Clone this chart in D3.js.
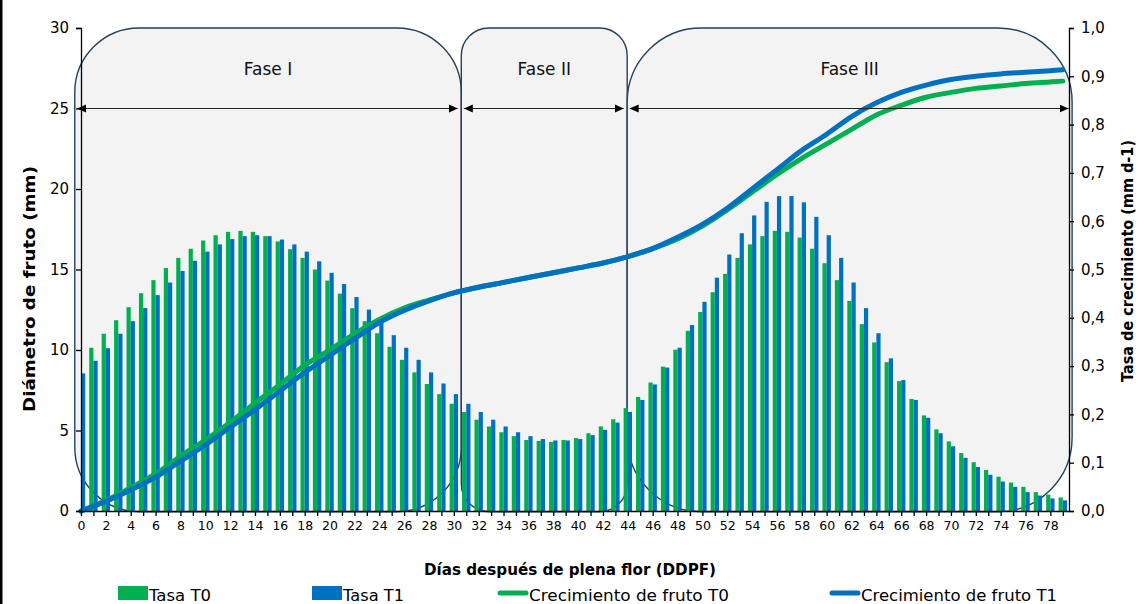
<!DOCTYPE html>
<html>
<head>
<meta charset="utf-8">
<script src="https://cdn.jsdelivr.net/npm/d3@7"></script>
<style>
  html, body { margin: 0; padding: 0; background: #ffffff; }
  svg { display: block; font-family: "DejaVu Sans", Verdana, sans-serif; }
</style>
</head>
<body>
<svg id="chart" width="1142" height="604"></svg>
<script>
// Daily growth rate (mm d-1), days 0..79
const days = d3.range(0, 80);
const tasaT0 = [
  0.310,0.338,0.367,0.395,0.422,0.451,0.478,0.503,0.524,0.543,
  0.560,0.571,0.578,0.580,0.578,0.569,0.558,0.542,0.524,0.500,
  0.477,0.450,0.420,0.393,0.368,0.340,0.313,0.287,0.263,0.242,
  0.222,0.205,0.189,0.175,0.163,0.155,0.147,0.145,0.143,0.147,
  0.151,0.161,0.175,0.190,0.213,0.236,0.266,0.299,0.334,0.373,
  0.412,0.453,0.491,0.524,0.552,0.569,0.580,0.578,0.566,0.543,
  0.513,0.478,0.435,0.387,0.349,0.308,0.269,0.232,0.198,0.169,
  0.144,0.120,0.101,0.085,0.071,0.059,0.050,0.039,0.034,0.028
];
const tasaT1 = [
  0.285,0.311,0.337,0.367,0.393,0.420,0.447,0.473,0.497,0.518,
  0.537,0.552,0.563,0.569,0.571,0.569,0.562,0.552,0.537,0.517,
  0.493,0.470,0.443,0.417,0.390,0.364,0.338,0.313,0.287,0.264,
  0.242,0.222,0.205,0.189,0.175,0.163,0.155,0.149,0.146,0.146,
  0.149,0.157,0.168,0.183,0.205,0.230,0.262,0.297,0.338,0.385,
  0.433,0.483,0.531,0.575,0.612,0.640,0.652,0.652,0.639,0.609,
  0.571,0.524,0.473,0.420,0.368,0.316,0.271,0.230,0.193,0.161,
  0.134,0.110,0.091,0.075,0.061,0.050,0.039,0.032,0.026,0.022
];

// Fruit diameter (mm)
const growthDays = [0,2,4,6,8,10,12,14,16,18,20,22,24,26,28,30,32,34,36,38,
                    40,42,44,46,48,50,52,54,56,58,60,62,64,66,68,70,72,74,76,78,79];
const crecT0 = [0,0.65,1.45,2.3,3.4,4.4,5.5,6.7,7.85,9.05,10.0,11.0,11.9,12.6,13.1,13.55,13.9,14.2,14.5,14.8,
                15.1,15.4,15.8,16.3,16.9,17.7,18.7,19.8,20.9,21.9,22.8,23.7,24.6,25.2,25.7,26.0,26.25,26.4,26.55,26.65,26.7];
const crecT1 = [0,0.6,1.3,2.1,3.1,4.1,5.2,6.3,7.45,8.6,9.65,10.7,11.7,12.45,13.05,13.55,13.9,14.2,14.5,14.8,
                15.1,15.4,15.8,16.3,17.0,17.8,18.8,20.0,21.2,22.4,23.4,24.5,25.35,26.0,26.45,26.8,27.0,27.15,27.25,27.35,27.4];

// Phenological phases (day span)
const phaseNames = ["Fase I", "Fase II", "Fase III"];
const phaseStart = [-0.5, 30.6, 43.95];
const phaseEnd   = [30.6, 43.95, 79.75];

const leftTicks = [0, 5, 10, 15, 20, 25, 30];
const rightTicks = [0, 0.1, 0.2, 0.3, 0.4, 0.5, 0.6, 0.7, 0.8, 0.9, 1.0];

const legendLabels = ["Tasa T0", "Tasa T1", "Crecimiento de fruto T0", "Crecimiento de fruto T1"];

const cGreen = "#00b050";
const cBlue = "#0070c0";

const svg = d3.select("#chart");

const x = d3.scaleLinear().domain([0, 79.5]).range([81, 1069]);
const yL = d3.scaleLinear().domain([0, 30]).range([511, 28]);
const yR = d3.scaleLinear().domain([0, 1]).range([511, 28]);

// outer frame edge
svg.append("rect").attr("x", 0).attr("y", 0).attr("width", 2.5).attr("height", 604).attr("fill", "#000");

// phase boxes (rounded rectangles, radius = 1/6 of shorter side)
function roundedBox(x0, y0, x1, y1) {
  const w = x1 - x0, h = y1 - y0;
  const r = Math.min(w, h) / 6;
  const p = d3.path();
  p.moveTo(x0 + r, y0);
  p.lineTo(x1 - r, y0);
  p.arcTo(x1, y0, x1, y0 + r, r);
  p.lineTo(x1, y1 - r);
  p.arcTo(x1, y1, x1 - r, y1, r);
  p.lineTo(x0 + r, y1);
  p.arcTo(x0, y1, x0, y1 - r, r);
  p.lineTo(x0, y0 + r);
  p.arcTo(x0, y0, x0 + r, y0, r);
  p.closePath();
  return p.toString();
}

const boxes = svg.append("g");
phaseNames.forEach((name, i) => {
  boxes.append("path")
    .attr("d", roundedBox(x(phaseStart[i]), yL(30), x(phaseEnd[i]), yL(0) + 0.7))
    .attr("fill", "#f3f3f3")
    .attr("stroke", "#24405f")
    .attr("stroke-width", 1.4);
});

// bars
const barW = 4.2;
const bars = svg.append("g");
bars.selectAll("rect.t0").data(days.filter(d => d > 0)).join("rect")
  .attr("class", "t0")
  .attr("x", d => x(d) - barW)
  .attr("y", d => yR(tasaT0[d]))
  .attr("width", barW)
  .attr("height", d => yR(0) - yR(tasaT0[d]))
  .attr("fill", cGreen);
bars.selectAll("rect.t1").data(days).join("rect")
  .attr("class", "t1")
  .attr("x", d => x(d))
  .attr("y", d => yR(tasaT1[d]))
  .attr("width", barW)
  .attr("height", d => yR(0) - yR(tasaT1[d]))
  .attr("fill", cBlue);

// growth curves
const line = d3.line().x((d, i) => x(growthDays[i])).curve(d3.curveMonotoneX);
svg.append("path")
  .attr("d", line.y(d => yL(d))(crecT0))
  .attr("fill", "none").attr("stroke", cGreen).attr("stroke-width", 5).attr("stroke-linecap", "round");
svg.append("path")
  .attr("d", line.y(d => yL(d))(crecT1))
  .attr("fill", "none").attr("stroke", cBlue).attr("stroke-width", 5).attr("stroke-linecap", "round");

// phase arrows and labels
const defs = svg.append("defs");
defs.append("marker").attr("id", "ahEnd").attr("viewBox", "0 0 10 10")
  .attr("refX", 10).attr("refY", 5).attr("markerWidth", 9).attr("markerHeight", 9)
  .attr("markerUnits", "userSpaceOnUse").attr("orient", "auto")
  .append("path").attr("d", "M0,0.5 L10,5 L0,9.5 Z").attr("fill", "#000");
defs.append("marker").attr("id", "ahStart").attr("viewBox", "0 0 10 10")
  .attr("refX", 0).attr("refY", 5).attr("markerWidth", 9).attr("markerHeight", 9)
  .attr("markerUnits", "userSpaceOnUse").attr("orient", "auto")
  .append("path").attr("d", "M10,0.5 L0,5 L10,9.5 Z").attr("fill", "#000");

const arrowY = yL(25);
phaseNames.forEach((name, i) => {
  const x0 = x(phaseStart[i]), x1 = x(phaseEnd[i]);
  svg.append("line")
    .attr("x1", x0 + 2.5).attr("x2", x1 - 3.5)
    .attr("y1", arrowY).attr("y2", arrowY)
    .attr("stroke", "#222").attr("stroke-width", 1)
    .attr("marker-start", "url(#ahStart)").attr("marker-end", "url(#ahEnd)");
  svg.append("text")
    .attr("x", (x0 + x1) / 2).attr("y", 75)
    .attr("text-anchor", "middle")
    .attr("font-size", 17)
    .attr("fill", "#111")
    .text(name);
});

// axes
const axisL = d3.axisLeft(yL).tickValues(leftTicks).tickSize(5).tickPadding(7).tickFormat(d3.format("d"));
const gL = svg.append("g").attr("transform", "translate(81,0)").call(axisL);
const axisR = d3.axisRight(yR).tickValues(rightTicks).tickSize(5).tickPadding(7)
  .tickFormat(d => d3.format(".1f")(d).replace(".", ","));
const gR = svg.append("g").attr("transform", "translate(1069,0)").call(axisR);
const axisB = d3.axisBottom(x).tickValues(days).tickSize(5).tickPadding(5)
  .tickFormat(d => d % 2 === 0 ? d : "");
const gB = svg.append("g").attr("transform", "translate(0,511)").call(axisB);

[gL, gR].forEach(g => {
  g.select(".domain").attr("stroke", "#000").attr("stroke-width", 1.3);
  g.selectAll(".tick line").attr("stroke", "#000").attr("stroke-width", 1.3);
  g.selectAll(".tick text").attr("font-size", 15).attr("fill", "#000")
    .attr("font-family", "'DejaVu Sans', Verdana, sans-serif");
});
gB.select(".domain").attr("stroke", "#000").attr("stroke-width", 1.5).attr("d", "M81,0.5H1069");
gB.selectAll(".tick line").attr("stroke", "#000").attr("stroke-width", 1.3);
gB.selectAll(".tick text").attr("font-size", 12.5).attr("fill", "#000")
  .attr("font-family", "'DejaVu Sans', Verdana, sans-serif");

// axis titles
svg.append("text")
  .attr("transform", "translate(35,289) rotate(-90)")
  .attr("text-anchor", "middle").attr("font-weight", "bold").attr("font-size", 15)
  .attr("textLength", 246).attr("lengthAdjust", "spacingAndGlyphs")
  .text("Diámetro de fruto (mm)");
svg.append("text")
  .attr("transform", "translate(1133,261) rotate(-90)")
  .attr("text-anchor", "middle").attr("font-weight", "bold").attr("font-size", 15)
  .attr("textLength", 242).attr("lengthAdjust", "spacingAndGlyphs")
  .text("Tasa de crecimiento (mm d-1)");
svg.append("text")
  .attr("x", 570).attr("y", 575)
  .attr("text-anchor", "middle").attr("font-weight", "bold").attr("font-size", 15)
  .attr("textLength", 292).attr("lengthAdjust", "spacingAndGlyphs")
  .text("Días después de plena flor (DDPF)");

// legend
const legend = svg.append("g");
const legX = [118, 312, 498, 830];
const legTextW = [62, 61, 200, 196];
const legColors = [cGreen, cBlue, cGreen, cBlue];
legendLabels.forEach((lab, i) => {
  if (i < 2) {
    legend.append("rect").attr("x", legX[i]).attr("y", 586).attr("width", 30).attr("height", 14).attr("fill", legColors[i]);
  } else {
    legend.append("line").attr("x1", legX[i] + 2).attr("x2", legX[i] + 28).attr("y1", 593).attr("y2", 593)
      .attr("stroke", legColors[i]).attr("stroke-width", 5).attr("stroke-linecap", "round");
  }
  legend.append("text").attr("x", legX[i] + 31).attr("y", 601)
    .attr("font-size", 16).attr("fill", "#000")
    .attr("textLength", legTextW[i]).attr("lengthAdjust", "spacingAndGlyphs")
    .text(lab);
});
</script>
</body>
</html>
